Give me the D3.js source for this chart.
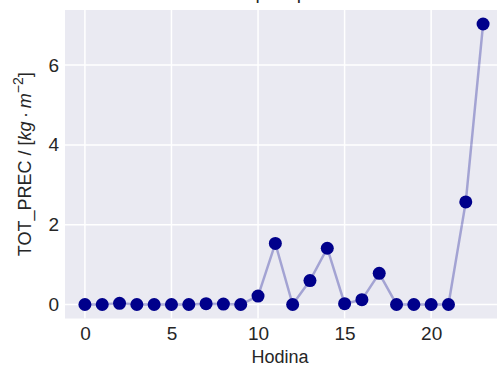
<!DOCTYPE html>
<html>
<head>
<meta charset="utf-8">
<script src="https://cdn.jsdelivr.net/npm/d3@7"></script>
<style>
  body { margin: 0; background: #fff; }
  svg { display: block; font-family: "Liberation Sans", Arial, sans-serif; }
</style>
</head>
<body>
<div id="chart"></div>
<script>
const hours = [0, 1, 2, 3, 4, 5, 6, 7, 8, 9, 10, 11, 12, 13, 14, 15, 16, 17, 18, 19, 20, 21, 22, 23]
const tot_prec = [0, 0, 0.03, 0, 0, 0, 0, 0.02, 0.01, 0, 0.21, 1.53, 0, 0.6, 1.41, 0.02, 0.12, 0.78, 0, 0, 0, 0, 2.57, 7.03]
const x_ticks = [0, 5, 10, 15, 20]
const y_ticks = [0, 2, 4, 6]

const width = 497, height = 367

const svg = d3.select("#chart").append("svg")
  .attr("width", width)
  .attr("height", height)

// matplotlib style 5% margins around the data, right side runs past the picture
const x = d3.scaleLinear().domain([-1.15, 24.15]).range([65, 503])
const y = d3.scaleLinear().domain([-0.3515, 7.3815]).range([318.5, 10])

// axes background
svg.append("rect")
  .attr("x", x.range()[0]).attr("y", y.range()[1])
  .attr("width", x.range()[1] - x.range()[0])
  .attr("height", y.range()[0] - y.range()[1])
  .attr("fill", "#eaeaf2")

// grid
const grid = svg.append("g").attr("stroke", "#fff").attr("stroke-width", 1.5)
grid.selectAll("line.gx").data(x_ticks).join("line").attr("class", "gx")
  .attr("x1", d => x(d)).attr("x2", d => x(d))
  .attr("y1", y.range()[0]).attr("y2", y.range()[1])
grid.selectAll("line.gy").data(y_ticks).join("line").attr("class", "gy")
  .attr("y1", d => y(d)).attr("y2", d => y(d))
  .attr("x1", x.range()[0]).attr("x2", x.range()[1])

// tick labels through d3 axes, no domain / tick lines
const xAxis = svg.append("g")
  .attr("transform", `translate(0,${y.range()[0]})`)
  .call(d3.axisBottom(x).tickValues(x_ticks).tickSize(0).tickPadding(8))
const yAxis = svg.append("g")
  .attr("transform", `translate(${x.range()[0]},0)`)
  .call(d3.axisLeft(y).tickValues(y_ticks).tickSize(0).tickPadding(6))
;[xAxis, yAxis].forEach(a => {
  a.select(".domain").remove()
  a.selectAll("text").attr("font-size", 19).attr("fill", "#262626")
    .attr("font-family", "Liberation Sans, Arial, sans-serif")
})

// line + markers
const line = d3.line().x((d, i) => x(hours[i])).y(d => y(d))
svg.append("path")
  .datum(tot_prec)
  .attr("d", line)
  .attr("fill", "none")
  .attr("stroke", "#00008b")
  .attr("stroke-opacity", 0.3)
  .attr("stroke-width", 2.5)

svg.append("g").selectAll("circle").data(tot_prec).join("circle")
  .attr("cx", (d, i) => x(hours[i]))
  .attr("cy", d => y(d))
  .attr("r", 6.5)
  .attr("fill", "#00008b")

// labels
svg.append("text")
  .attr("x", 280)
  .attr("y", 363)
  .attr("text-anchor", "middle")
  .attr("font-size", 18)
  .attr("fill", "#262626")
  .text("Hodina")

const ylab = svg.append("text")
  .attr("transform", `translate(31,${(y.range()[0] + y.range()[1]) / 2}) rotate(-90)`)
  .attr("text-anchor", "middle")
  .attr("font-size", 18)
  .attr("fill", "#262626")
ylab.append("tspan").text("TOT_PREC / [")
ylab.append("tspan").attr("font-style", "italic").text("kg")
ylab.append("tspan").text("\u2009\u00b7\u2009")
ylab.append("tspan").attr("font-style", "italic").text("m")
ylab.append("tspan").attr("font-size", 14).attr("dy", -8).text("\u22122")
ylab.append("tspan").attr("dy", 8).text("]")

// title, mostly above the visible area
svg.append("text")
  .attr("x", (x.range()[0] + x.range()[1]) / 2)
  .attr("y", -1)
  .attr("text-anchor", "middle")
  .attr("font-size", 19)
  .attr("fill", "#262626")
  .text("Total precipitation")
</script>
</body>
</html>
